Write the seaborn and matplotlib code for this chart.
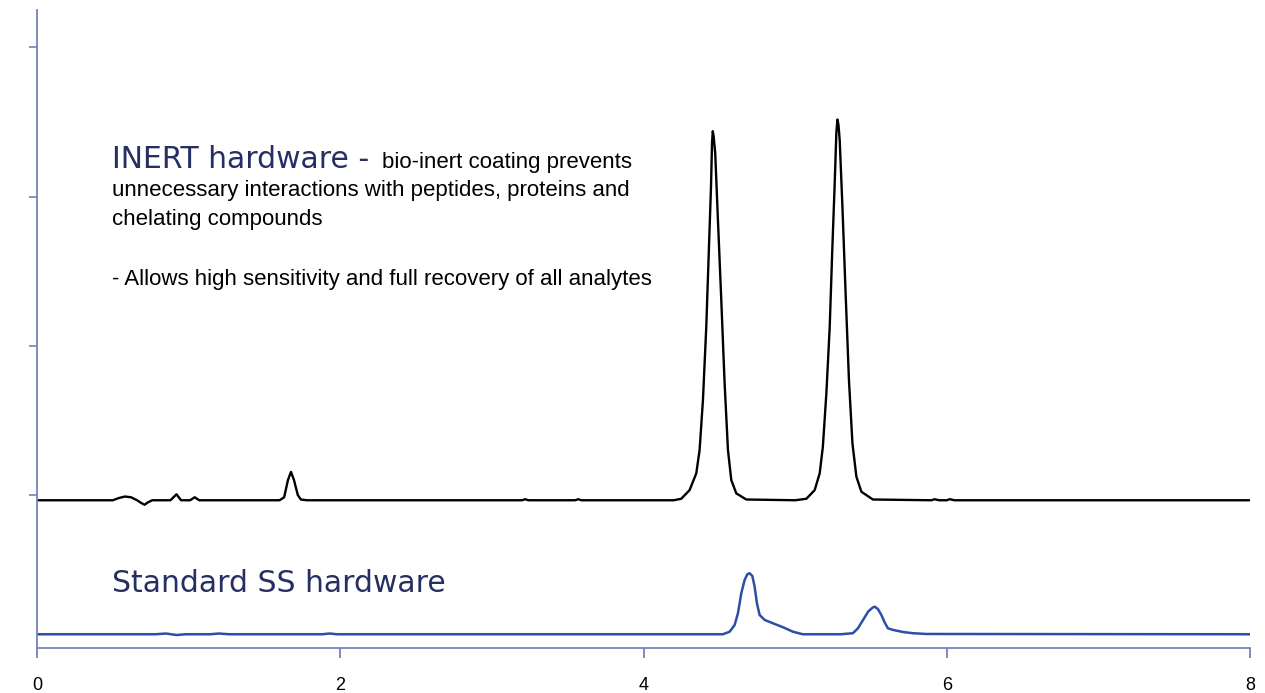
import pandas as pd
import seaborn as sns
import matplotlib.pyplot as plt

# retention time (min) / detector signal
ret_time_inert = [0.00, 0.50, 0.54, 0.58, 0.62, 0.66, 0.69, 0.71, 0.73, 0.76,
                  0.88, 0.92, 0.95, 1.01, 1.04, 1.07,
                  1.60, 1.63, 1.655, 1.675, 1.695, 1.72, 1.74, 1.78,
                  3.20, 3.22, 3.24, 3.55, 3.57, 3.59, 4.20,
                  4.249, 4.304, 4.348, 4.370, 4.392, 4.414, 4.431, 4.445, 4.452, 4.457,
                  4.463, 4.473, 4.490, 4.513, 4.535, 4.557, 4.579, 4.612, 4.678, 5.00,
                  5.074, 5.129, 5.162, 5.183, 5.206, 5.228, 5.245, 5.261, 5.272, 5.279,
                  5.286, 5.294, 5.312, 5.333, 5.355, 5.378, 5.404, 5.437, 5.513,
                  5.90, 5.92, 5.95, 6.00, 6.02, 6.05, 8.00]
signal_inert = [-3.5, -3.5, -2.0, -1.0, -1.5, -3.5, -5.5, -6.5, -5.0, -3.5,
                -3.5, 0.5, -3.5, -3.5, -1.5, -3.5,
                -3.5, -1.5, 10.0, 15.5, 10.0, 0.0, -3.0, -3.5,
                -3.5, -2.8, -3.5, -3.5, -2.8, -3.5, -3.5,
                -2.5, 3.3, 14.5, 30.1, 63.6, 112.7, 164.1, 206.0, 236.0, 243.8,
                240.0, 229.0, 186.5, 130.6, 74.8, 30.1, 10.0, 1.1, -3.0, -3.5,
                -2.5, 3.3, 14.5, 32.4, 68.1, 112.3, 164.1, 208.8, 243.0, 251.6,
                248.0, 237.8, 193.1, 135.1, 77.0, 34.6, 12.3, 2.2, -3.0,
                -3.5, -2.8, -3.5, -3.5, -2.8, -3.5, -3.5]

ret_time_ss = [0.00, 0.78, 0.85, 0.92, 0.98, 1.14, 1.20, 1.27, 1.88, 1.93, 1.98, 4.45,
               4.523, 4.568, 4.601, 4.623, 4.645, 4.667, 4.685, 4.700, 4.718, 4.733,
               4.748, 4.766, 4.799, 4.853, 4.920, 4.986, 5.051, 5.30,
               5.381, 5.414, 5.448, 5.481, 5.510, 5.525, 5.546, 5.569, 5.591, 5.612,
               5.646, 5.712, 5.778, 5.866, 8.00]
signal_ss = [-93.3, -93.3, -92.8, -93.8, -93.3, -93.3, -92.8, -93.3, -93.3, -92.8, -93.3, -93.3,
             -93.3, -91.6, -87.1, -79.2, -65.8, -56.9, -53.1, -52.4, -54.3, -61.4,
             -72.5, -80.4, -83.7, -85.9, -88.6, -91.6, -93.3, -93.3,
             -92.6, -89.3, -83.7, -78.2, -75.5, -74.8, -76.4, -80.4, -85.5, -89.3,
             -90.4, -91.8, -92.6, -93.1, -93.3]

x_ticks = [0, 2, 4, 6, 8]
y_ticks = [0, 100, 200, 300]

sns.set_style("white")
plt.rcParams['font.family'] = ['Liberation Sans', 'DejaVu Sans']

axis_col = '#7482b9'
navy = '#252f62'
blue = '#2d4fa3'

df_inert = pd.DataFrame({'time': ret_time_inert, 'signal': signal_inert})
df_ss = pd.DataFrame({'time': ret_time_ss, 'signal': signal_ss})

fig = plt.figure(figsize=(12.65, 6.93), dpi=100)
ax = fig.add_axes([37 / 1265, 45 / 693, 1213 / 1265, 638 / 693])

sns.lineplot(data=df_inert, x='time', y='signal', ax=ax, color='black', linewidth=1.7, sort=False)
sns.lineplot(data=df_ss, x='time', y='signal', ax=ax, color=blue, linewidth=1.8, sort=False)

ax.set_xlim(0, 8)
ax.set_ylim(-102.5, 325)
ax.set_xticks(x_ticks)
ax.set_xticklabels([str(t) for t in x_ticks])
ax.set_yticks(y_ticks)
ax.set_yticklabels([])
ax.set_xlabel('')
ax.set_ylabel('')

for side in ['top', 'right']:
    ax.spines[side].set_visible(False)
for side in ['left', 'bottom']:
    ax.spines[side].set_color(axis_col)
    ax.spines[side].set_linewidth(1.3)

ax.tick_params(axis='x', direction='out', length=7, width=1.3, color=axis_col, bottom=True,
               labelsize=13, pad=14, labelcolor='black')
ax.tick_params(axis='y', direction='out', length=6, width=1.2, color=axis_col, left=True)

# annotations (pixel positions of the reference converted to figure fractions)
W, H = 1265, 693
title_font = ['DejaVu Sans']
fig.text(112 / W, 1 - 168 / H, 'INERT hardware -', color=navy, fontsize=21.5,
         family=title_font, va='baseline')
fig.text(382 / W, 1 - 168 / H, 'bio-inert coating prevents', color='black', fontsize=16,
         va='baseline')
fig.text(112 / W, 1 - 196 / H, 'unnecessary interactions with peptides, proteins and',
         color='black', fontsize=16, va='baseline')
fig.text(112 / W, 1 - 225 / H, 'chelating compounds', color='black', fontsize=16, va='baseline')
fig.text(112 / W, 1 - 285 / H, '- Allows high sensitivity and full recovery of all analytes',
         color='black', fontsize=16, va='baseline')
fig.text(112 / W, 1 - 592 / H, 'Standard SS hardware', color=navy, fontsize=21.5,
         family=title_font, va='baseline')

fig.savefig('out.png', dpi=100)
